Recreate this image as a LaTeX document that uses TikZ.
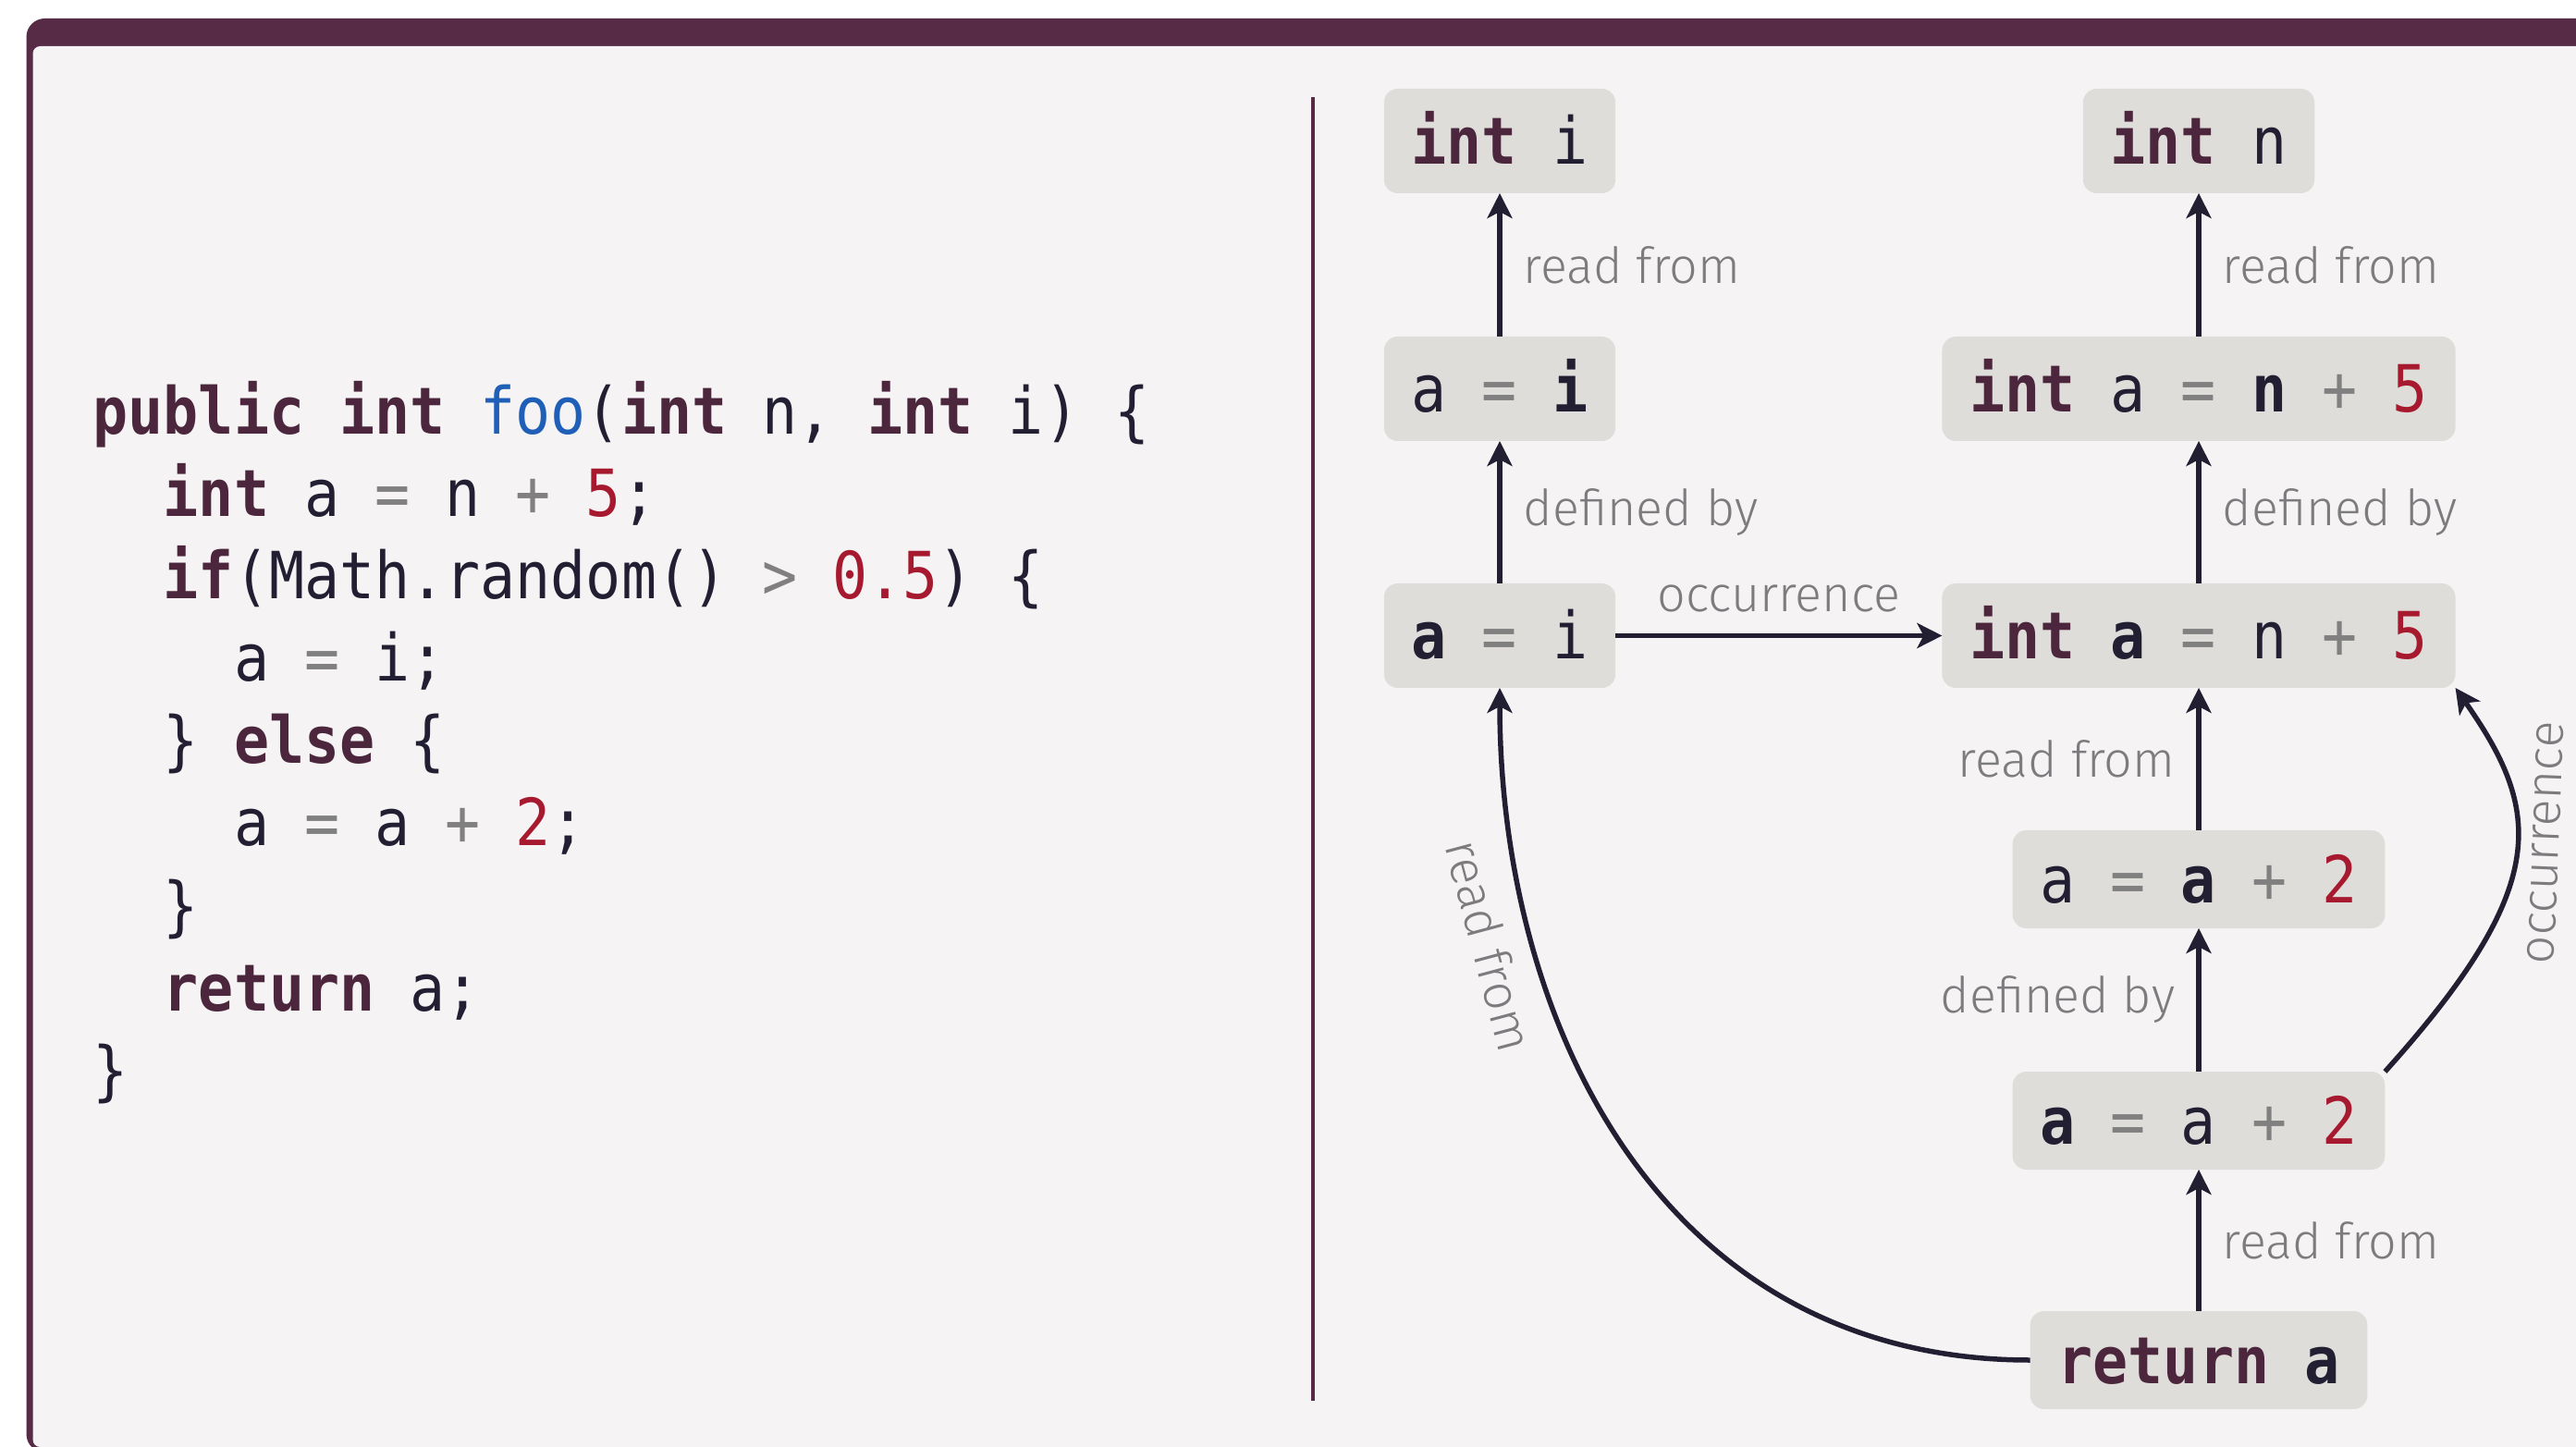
\documentclass[tikz,border=0pt]{standalone}
\usepackage{fontspec}
\usetikzlibrary{arrows.meta}

\newfontfamily\codefont[FakeStretch=0.9]{DejaVu Sans Mono}
\newfontfamily\labelfont{Fira Sans Light}

\definecolor{framepurple}{HTML}{572B45}
\definecolor{panel}{HTML}{F5F3F4}
\definecolor{nodegray}{HTML}{DFDDD9}
\definecolor{kwpurple}{HTML}{4B263D}
\definecolor{ink}{HTML}{231F33}
\definecolor{litred}{HTML}{A6192E}
\definecolor{fnblue}{HTML}{1F5FB8}
\definecolor{opgray}{HTML}{808080}
\definecolor{labelgray}{HTML}{7C7B7E}

\newcommand{\kw}[1]{\textcolor{kwpurple}{\bfseries #1}}
\newcommand{\lit}[1]{\textcolor{litred}{#1}}
\newcommand{\opr}[1]{\textcolor{opgray}{#1}}
\newcommand{\fname}[1]{\textcolor{fnblue}{#1}}
\newcommand{\hlvar}[1]{{\bfseries #1}}

\begin{document}
\begin{tikzpicture}[
  box/.style={fill=nodegray, rounded corners=0.15cm, inner xsep=0.3cm, inner ysep=0.265cm,
    text height=0.55cm, text depth=0.05cm, outer sep=0pt, text=ink,
    font=\codefont\fontsize{20}{24}\selectfont},
  lowbox/.style={box, inner ysep=0.23cm},
  link/.style={draw=ink, line width=0.055cm, -{Stealth[length=0.27cm,width=0.27cm,inset=0.07cm]}},
  lbl/.style={font=\labelfont\fontsize{15.3}{18}\selectfont, text=labelgray, inner sep=0.23cm},
  codeline/.style={anchor=base west, inner sep=0pt, text=ink, font=\codefont\fontsize{20}{24}\selectfont}]
  \useasboundingbox (0,0) rectangle (27.86,15.64);

  % frame
  \fill[framepurple, rounded corners=0.2cm] (0.285,-0.07) rectangle (28.5,15.44);
  \fill[panel, rounded corners=0.08cm] (0.355,-0.01) rectangle (28.4,15.14);
  \draw[framepurple, line width=0.04cm] (14.2,14.59) -- (14.2,0.49);

  % source code
  \foreach \lvl/\codetext [count=\k] in {
      0/{\kw{public} \kw{int} \fname{foo}(\kw{int} n, \kw{int} i) \{},
      1/{\kw{int} a \opr{=} n \opr{+} \lit{5};},
      1/{\kw{if}(Math.random() \opr{>} \lit{0.5}) \{},
      2/{a \opr{=} i;},
      1/{\} \kw{else} \{},
      2/{a \opr{=} a \opr{+} \lit{2};},
      1/{\}},
      1/{\kw{return} a;},
      0/{\}}}
    \node[codeline] (line\k) at ({1.0+0.762*\lvl},{11.83-0.89*\k}) {\codetext};

  % def-use graph
  \node[box] (inti) at (16.22,14.115) {\kw{int} i};
  \node[box] (ai) at (16.22,11.435) {a \opr{=} \hlvar{i}};
  \node[box] (ai2) at (16.22,8.765) {\hlvar{a} \opr{=} i};
  \node[box] (intn) at (23.78,14.115) {\kw{int} n};
  \node[box] (inta) at (23.78,11.435) {\kw{int} a \opr{=} \hlvar{n} \opr{+} \lit{5}};
  \node[box] (inta2) at (23.78,8.765) {\kw{int} \hlvar{a} \opr{=} n \opr{+} \lit{5}};
  \node[lowbox] (aa) at (23.78,6.13) {a \opr{=} \hlvar{a} \opr{+} \lit{2}};
  \node[lowbox] (aa2) at (23.78,3.52) {\hlvar{a} \opr{=} a \opr{+} \lit{2}};
  \node[lowbox] (ret) at (23.78,0.93) {\kw{return} \hlvar{a}};

  \draw[link] (ai) -- node[lbl,right] (lab1) {read from} (inti);
  \draw[link] (ai2) -- node[lbl,right] (lab2) {defined by} (ai);
  \draw[link] (ai2) -- node[lbl,above] (lab3) {occurrence} (inta2);
  \draw[link] (inta) -- node[lbl,right] (lab4) {read from} (intn);
  \draw[link] (inta2) -- node[lbl,right] (lab5) {defined by} (inta);
  \draw[link] (aa) -- node[lbl,left] (lab6) {read from} (inta2);
  \draw[link] (aa2) -- node[lbl,left] (lab7) {defined by} (aa);
  \draw[link] (ret) -- node[lbl,right] (lab8) {read from} (aa2);
  \draw[link] (ret.west) to[out=180,in=-90,out looseness=1.1]
    node[lbl,sloped,below,pos=0.75] (lab9) {read from} (ai2.south);
  \draw[link] (aa2.north east) to[out=48,in=-55,out looseness=1.65,in looseness=0.98]
    node[lbl,sloped,below,pos=0.54,inner sep=0.14cm] (lab10) {occurrence} (inta2.south east);
\end{tikzpicture}
\end{document}
